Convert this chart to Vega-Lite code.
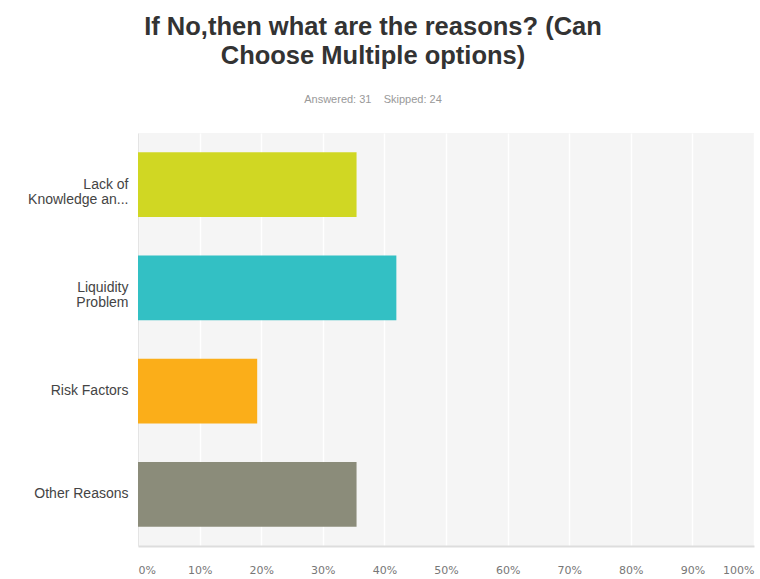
{
  "$schema": "https://vega.github.io/schema/vega-lite/v6.json",
  "width": 616,
  "height": 413,
  "autosize": {"type": "none"},
  "padding": {"left": 138, "top": 133, "right": 6, "bottom": 33},
  "background": "white",
  "title": {
    "text": ["If No,then what are the reasons? (Can", "Choose Multiple options)"],
    "subtitle": "Answered: 31\u00a0\u00a0\u00a0\u00a0Skipped: 24",
    "anchor": "middle",
    "frame": "group",
    "dx": -73,
    "offset": 28,
    "font": "Liberation Sans",
    "fontSize": 25.5,
    "fontWeight": "bold",
    "color": "#333333",
    "lineHeight": 29,
    "subtitleFont": "Liberation Sans",
    "subtitleFontSize": 11,
    "subtitleColor": "#999999",
    "subtitlePadding": 25
  },
  "data": {
    "values": [
      {"reason": "Lack of|Knowledge an...", "pct": 0.3548},
      {"reason": "Liquidity|Problem", "pct": 0.4194},
      {"reason": "Risk Factors", "pct": 0.1935},
      {"reason": "Other Reasons", "pct": 0.3548}
    ]
  },
  "mark": {"type": "bar"},
  "encoding": {
    "y": {
      "field": "reason",
      "type": "nominal",
      "sort": null,
      "scale": {"paddingInner": 0.375, "paddingOuter": 0.1875},
      "axis": {
        "title": null,
        "labelExpr": "split(datum.label, '|')",
        "labelFont": "Liberation Sans",
        "labelFontSize": 14,
        "labelColor": "#444444",
        "labelPadding": 10,
        "labelLineHeight": 15,
        "ticks": false,
        "domain": true,
        "domainColor": "#e4e4e4",
        "labelLimit": 200
      }
    },
    "x": {
      "field": "pct",
      "type": "quantitative",
      "scale": {"domain": [0, 1]},
      "axis": {
        "title": null,
        "format": ".0%",
        "values": [0, 0.1, 0.2, 0.3, 0.4, 0.5, 0.6, 0.7, 0.8, 0.9, 1],
        "labelFlush": true,
        "labelPadding": 18,
        "ticks": false,
        "domainColor": "#dddddd",
        "domainWidth": 2,
        "gridColor": "#ffffff",
        "gridWidth": 1.5,
        "labelFont": "DejaVu Sans",
        "labelFontSize": 11,
        "labelColor": "#777777"
      }
    },
    "color": {
      "field": "reason",
      "type": "nominal",
      "scale": {
        "domain": ["Lack of|Knowledge an...", "Liquidity|Problem", "Risk Factors", "Other Reasons"],
        "range": ["#d0d723", "#33c0c4", "#fbae19", "#8b8c7a"]
      },
      "legend": null
    }
  },
  "config": {"view": {"fill": "#f5f5f5", "stroke": null}}
}
